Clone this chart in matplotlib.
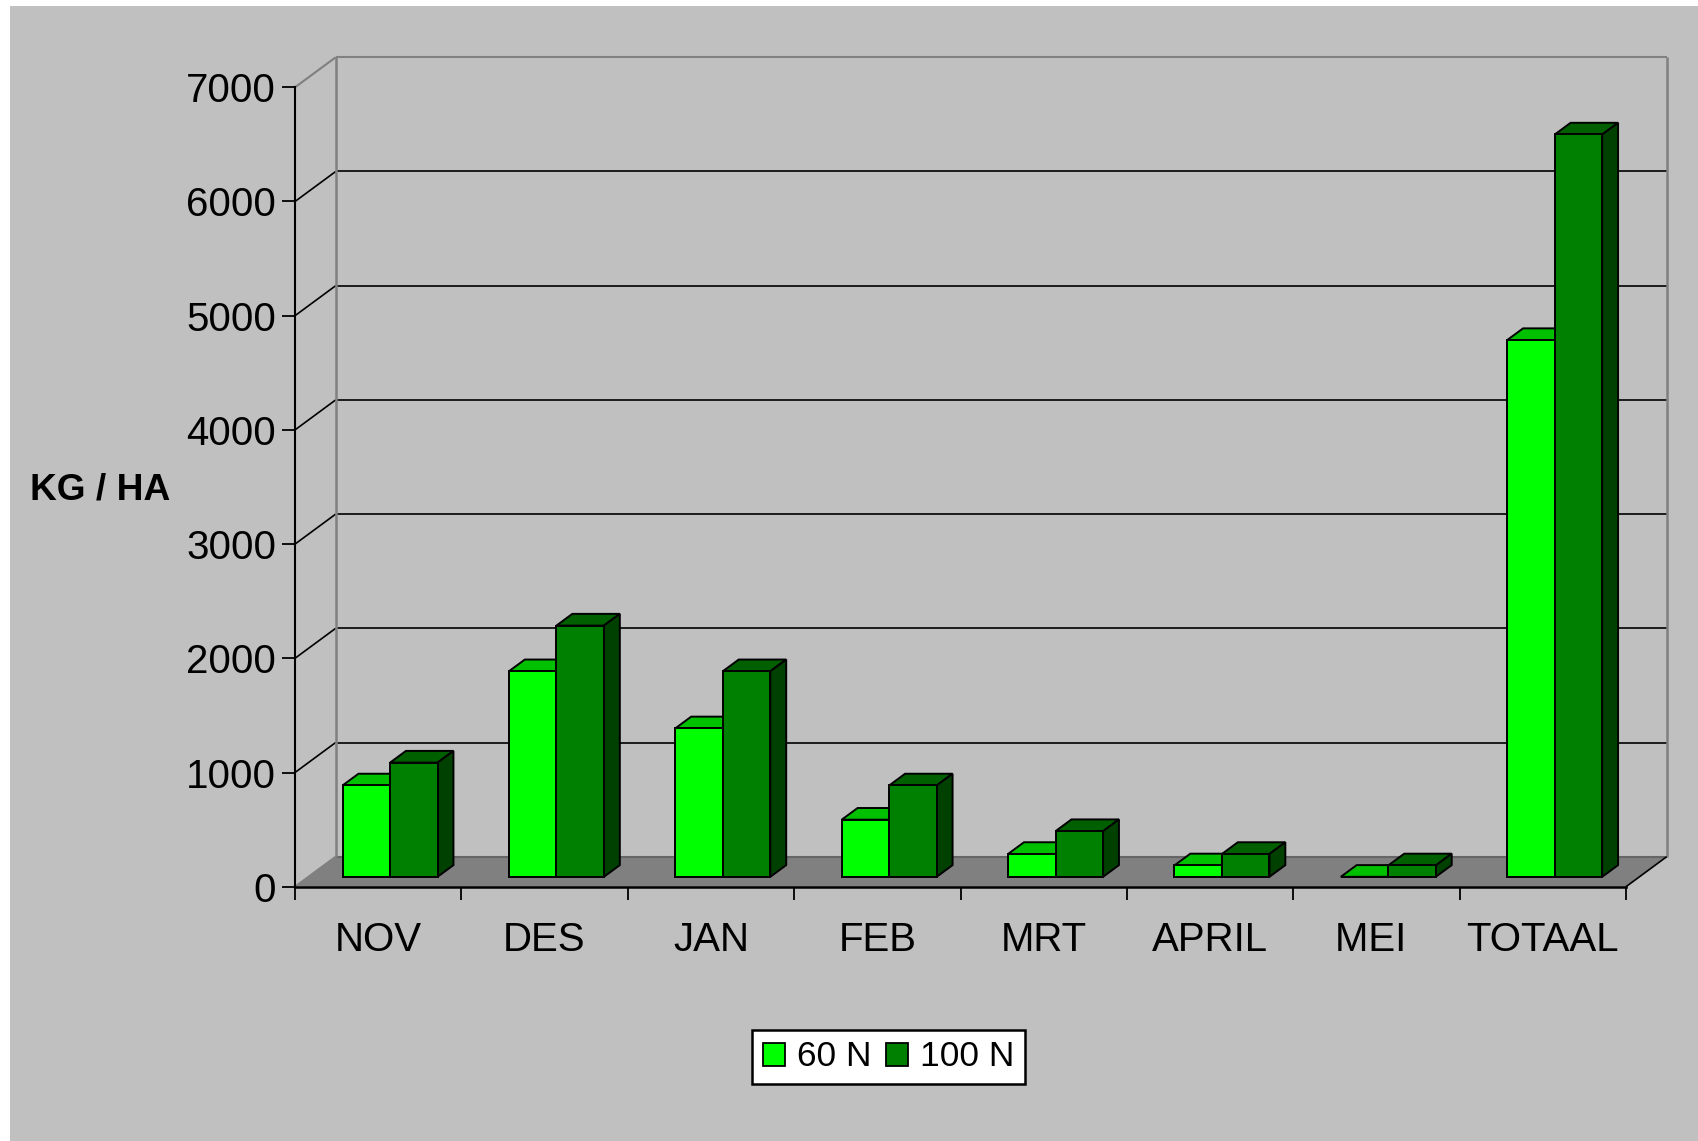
import matplotlib
matplotlib.use("Agg")
import matplotlib.pyplot as plt
from matplotlib.patches import Patch, Rectangle

plt.rcParams['font.family'] = ['Liberation Sans', 'DejaVu Sans']

months = ['NOV', 'DES', 'JAN', 'FEB', 'MRT', 'APRIL', 'MEI ', 'TOTAAL']
n60 = [800, 1800, 1300, 500, 200, 100, 0, 4700]
n100 = [1000, 2200, 1800, 800, 400, 200, 100, 6500]
yticks = [0, 1000, 2000, 3000, 4000, 5000, 6000, 7000]
series_names = ['60 N', '100 N']

W, H = 1698, 1141
AX_L, AX_R, AX_T, AX_B = 295, 1626, 87.3, 886.7

# oblique depth of the fake 3d box, in data units
WALL_DX = 40.7 / 166.4
WALL_DY = 30 / 114.2 * 1000
BAR_Z0 = 0.33
BAR_Z1 = 0.72
BAR_W = 0.2855
BAR_PAD = 0.286

GREY_BG = '#c0c0c0'
WALL = '#808080'
EDGE_LW = 1.4


def proj(x, v, z):
    return x + z * WALL_DX, v + z * WALL_DY


def line3d(ax, p0, p1, color, lw, zorder=1.5):
    a = proj(*p0)
    b = proj(*p1)
    ax.plot([a[0], b[0]], [a[1], b[1]], color=color, lw=lw, clip_on=False,
            zorder=zorder, solid_capstyle='butt')


def poly3d(ax, pts, color, zorder):
    xs, ys = zip(*[proj(*p) for p in pts])
    ax.fill(xs, ys, facecolor=color, edgecolor='black', lw=EDGE_LW, clip_on=False,
            zorder=zorder, joinstyle='miter')


def bar3d(ax, x, value, front, top, side, zorder):
    base = BAR_Z0 * WALL_DY
    ax.bar(x, value, width=BAR_W, bottom=base, align='edge', color=front,
           edgecolor='black', lw=EDGE_LW, clip_on=False, zorder=zorder + 0.02)
    # the x of the bar already has the front depth in it, so shift back
    x0 = x - BAR_Z0 * WALL_DX
    x1 = x0 + BAR_W
    poly3d(ax, [(x0, value, BAR_Z0), (x1, value, BAR_Z0), (x1, value, BAR_Z1), (x0, value, BAR_Z1)], top, zorder)
    poly3d(ax, [(x1, 0, BAR_Z0), (x1, 0, BAR_Z1), (x1, value, BAR_Z1), (x1, value, BAR_Z0)], side, zorder + 0.01)


fig = plt.figure(figsize=(W / 100, H / 100), dpi=100, facecolor='white')
fig.add_artist(Rectangle((9.5 / W, 0), 1, 1 - 5.5 / H, transform=fig.transFigure,
                         facecolor=GREY_BG, edgecolor='none', zorder=-5))

ax = fig.add_axes([AX_L / W, 1 - AX_B / H, (AX_R - AX_L) / W, (AX_B - AX_T) / H])
ax.patch.set_visible(False)
n = len(months)
ax.set_xlim(0, n)
ax.set_ylim(0, 7000)

# floor and walls
xs, ys = zip(*[proj(0, 0, 0), proj(n, 0, 0), proj(n, 0, 1), proj(0, 0, 1)])
ax.fill(xs, ys, facecolor=WALL, edgecolor='none', clip_on=False, zorder=1)
for v in yticks[1:-1]:
    line3d(ax, (0, v, 0), (0, v, 1), 'black', 1.2)
    line3d(ax, (0, v, 1), (n, v, 1), 'black', 1.2)
line3d(ax, (0, 7000, 0), (0, 7000, 1), WALL, 1.5)
line3d(ax, (0, 7000, 1), (n, 7000, 1), WALL, 1.5)
line3d(ax, (0, 0, 0), (0, 0, 1), WALL, 1.5)
line3d(ax, (0, 0, 1), (n, 0, 1), '#666666', 1.5)
line3d(ax, (0, 0, 1), (0, 7000, 1), WALL, 1.8)
line3d(ax, (n, 0, 1), (n, 7000, 1), WALL, 1.8)
line3d(ax, (n, 0, 0), (n, 0, 1), 'black', 1.2)

for i in range(n):
    left = i + BAR_PAD
    bar3d(ax, left, n60[i], '#00ff00', '#00c000', '#008000', 3.0)
    bar3d(ax, left + BAR_W, n100[i], '#008000', '#006000', '#004000', 3.2)

ax.spines['top'].set_visible(False)
ax.spines['right'].set_visible(False)
ax.spines['left'].set_linewidth(1.5)
ax.spines['bottom'].set_linewidth(1.8)

ax.set_yticks(yticks)
ax.set_xticks(range(n + 1))
ax.set_xticks([i + 0.5 for i in range(n)], minor=True)
ax.set_xticklabels([])
ax.set_xticklabels(months, minor=True)
ax.tick_params(axis='y', length=9.2, width=1.3, pad=4.4, labelsize=29)
ax.tick_params(axis='x', which='major', length=9.2, width=1.3)
ax.tick_params(axis='x', which='minor', length=0, pad=25, labelsize=29)

ax.set_ylabel('KG / HA', rotation=0, fontsize=26.7, fontweight='bold', ha='center', va='center')
ax.yaxis.set_label_coords(-0.1465, 0.496)

handles = [Patch(facecolor='#00ff00', edgecolor='black', lw=1.3),
           Patch(facecolor='#008000', edgecolor='black', lw=1.3)]
leg = ax.legend(handles, series_names, ncol=2, loc='center',
                bbox_to_anchor=(888.5 / W, 1 - 1057 / H), bbox_transform=fig.transFigure,
                fontsize=25.5, handlelength=0.62, handleheight=0.62, handletextpad=0.34,
                columnspacing=0.42, borderpad=0.3, borderaxespad=0, fancybox=False,
                framealpha=1, facecolor='white', edgecolor='black')
leg.get_frame().set_linewidth(1.8)

fig.savefig('out.png', dpi=100, facecolor=fig.get_facecolor())
